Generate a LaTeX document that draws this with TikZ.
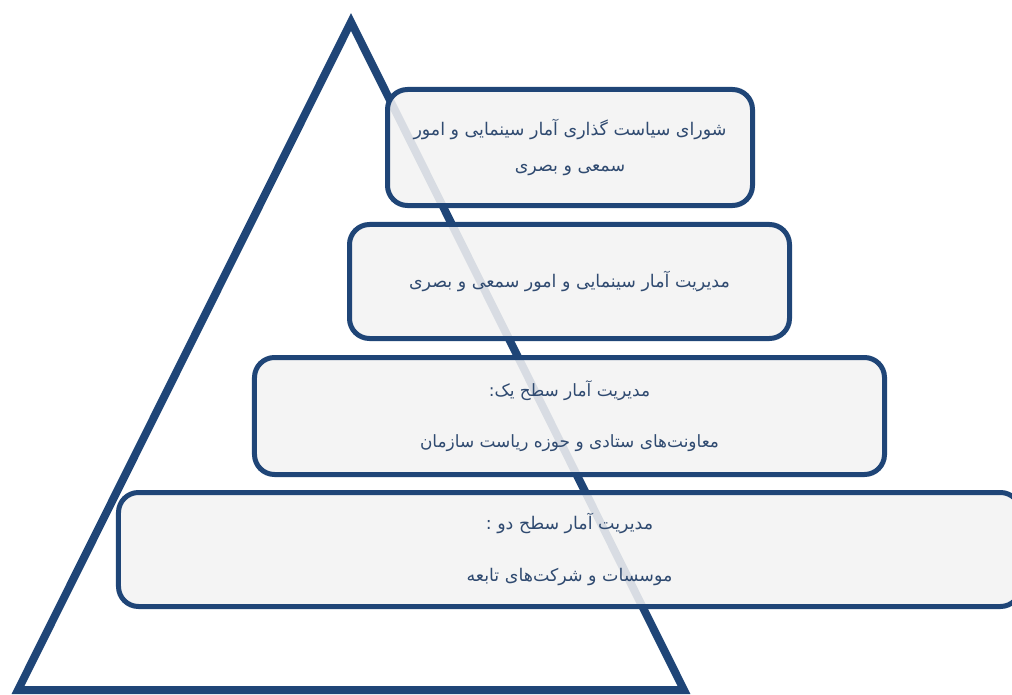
\documentclass[tikz,border=0pt]{standalone}
\usepackage{fontspec}
\newfontfamily\arabicfont[Script=Arabic]{DejaVu Sans}
\TeXXeTstate=1
\definecolor{navy}{HTML}{1F4577}
\definecolor{boxfill}{HTML}{F2F2F2}
\definecolor{txt}{HTML}{2F4A70}
\begin{document}
\begin{tikzpicture}[x=1bp,y=-1bp,
  level/.style={draw=navy, line width=5bp, fill=boxfill, fill opacity=0.88, text opacity=1,
    rounded corners=20bp, align=center, text=txt, font=\arabicfont\fontsize{17.5}{37}\selectfont,
    inner sep=0pt}]
\clip (0,0) rectangle (1012,695);
\useasboundingbox (0,0) rectangle (1012,695);
\draw[navy, line width=8bp, line join=miter] (351,22) -- (684,690) -- (18,690) -- cycle;
\node[level, minimum width=365bp, minimum height=116bp] (l1) at (570,147.5)
  {\beginR شورای سیاست گذاری آمار  سینمایی و امور\endR\\ \beginR سمعی و بصری\endR};
\node[level, minimum width=440bp, minimum height=114bp] (l2) at (569.5,281.5)
  {\beginR مدیریت آمار سینمایی و امور سمعی و بصری\endR};
\node[level, minimum width=630bp, minimum height=117bp, font=\arabicfont\fontsize{17}{51}\selectfont] (l3) at (569.5,416)
  {\beginR مدیریت آمار سطح یک:\endR\\ \beginR معاونت‌های ستادی و حوزه ریاست سازمان\endR};
\node[level, minimum width=902bp, minimum height=114bp, font=\arabicfont\fontsize{17.5}{53}\selectfont] (l4) at (569.5,549.5)
  {\beginR مدیریت آمار سطح دو :\endR\\ \beginR موسسات و شرکت‌های تابعه\endR};
\end{tikzpicture}
\end{document}
